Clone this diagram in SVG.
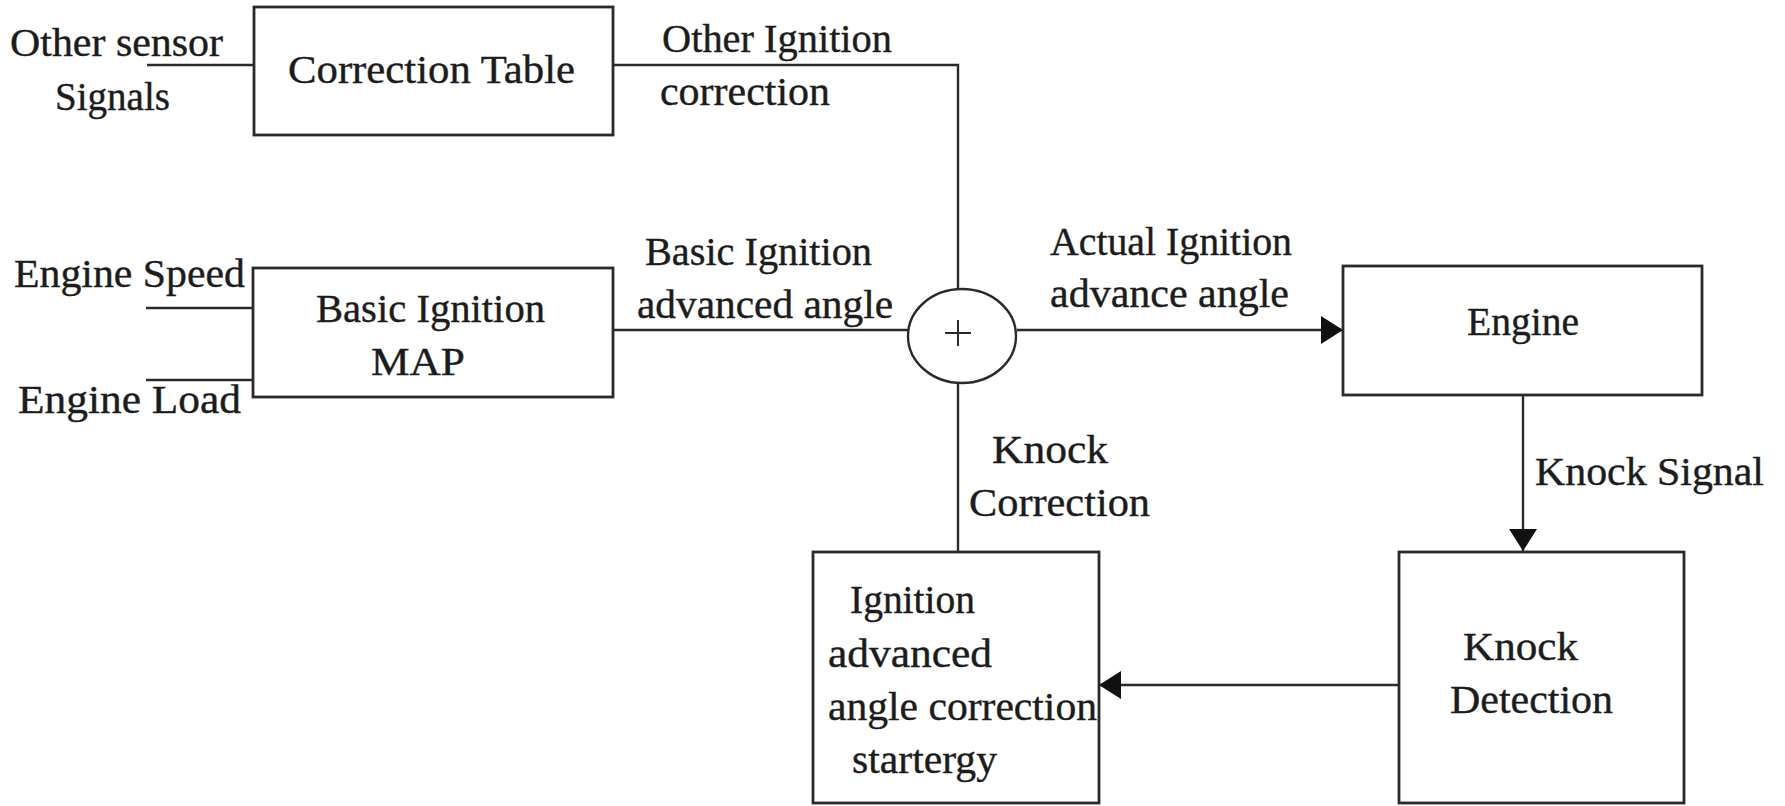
<svg xmlns="http://www.w3.org/2000/svg" width="1785" height="806" viewBox="0 0 1785 806">
<style>
.box{fill:#fff;stroke:#2a2a2a;stroke-width:2.8}
.ln{fill:none;stroke:#2a2a2a;stroke-width:2.4}
.t{font-family:"Liberation Serif","Times New Roman",serif;font-size:41px;fill:#1c1c1c;stroke:#1c1c1c;stroke-width:0.4}
</style>
<defs>
<marker id="ah" markerUnits="userSpaceOnUse" markerWidth="22" markerHeight="28" refX="22" refY="14" orient="auto" viewBox="0 0 22 28">
<path d="M0,0 L22,14 L0,28 Z" fill="#111"/>
</marker>
</defs>
<rect width="1785" height="806" fill="#fff"/>
<g id="connectors">
<path class="ln" d="M147,65 H254"/>
<path class="ln" d="M146,308 H253"/>
<path class="ln" d="M146,380 H253"/>
<path class="ln" d="M613,65 H958 V289"/>
<path class="ln" d="M613,330 H909"/>
<path class="ln" d="M1017,330 H1343" marker-end="url(#ah)"/>
<path class="ln" d="M1523,395 V551" marker-end="url(#ah)"/>
<path class="ln" d="M1399,685 H1099" marker-end="url(#ah)"/>
<path class="ln" d="M958,552 V383"/>
<text class="t" x="10" y="56" textLength="213" lengthAdjust="spacingAndGlyphs">Other sensor</text>
<text class="t" x="55" y="110" textLength="115" lengthAdjust="spacingAndGlyphs">Signals</text>
<text class="t" x="14" y="287" textLength="231" lengthAdjust="spacingAndGlyphs">Engine Speed</text>
<text class="t" x="18" y="413" textLength="223" lengthAdjust="spacingAndGlyphs">Engine Load</text>
<text class="t" x="662" y="52" textLength="230" lengthAdjust="spacingAndGlyphs">Other Ignition</text>
<text class="t" x="660" y="105" textLength="170" lengthAdjust="spacingAndGlyphs">correction</text>
<text class="t" x="645" y="265" textLength="227" lengthAdjust="spacingAndGlyphs">Basic Ignition</text>
<text class="t" x="637" y="318" textLength="256" lengthAdjust="spacingAndGlyphs">advanced angle</text>
<text class="t" x="1050" y="255" textLength="242" lengthAdjust="spacingAndGlyphs">Actual Ignition</text>
<text class="t" x="1050" y="307" textLength="239" lengthAdjust="spacingAndGlyphs">advance angle</text>
<text class="t" x="1535" y="485" textLength="229" lengthAdjust="spacingAndGlyphs">Knock Signal</text>
<text class="t" x="992" y="463" textLength="116" lengthAdjust="spacingAndGlyphs">Knock</text>
<text class="t" x="969" y="516" textLength="181" lengthAdjust="spacingAndGlyphs">Correction</text>
</g>
<g id="correction-table">
<rect class="box" x="254" y="7" width="359" height="128"/>
<text class="t" x="288" y="83" textLength="287" lengthAdjust="spacingAndGlyphs">Correction Table</text>
</g>
<g id="basic-ignition-map">
<rect class="box" x="253" y="268" width="360" height="129"/>
<text class="t" x="316" y="322" textLength="229" lengthAdjust="spacingAndGlyphs">Basic Ignition</text>
<text class="t" x="371" y="375" textLength="94" lengthAdjust="spacingAndGlyphs">MAP</text>
</g>
<g id="sum">
<ellipse cx="962" cy="336" rx="54" ry="47" fill="#fff" stroke="#2a2a2a" stroke-width="2.4"/>
<path d="M945,333 H971 M958,320 V346" stroke="#2a2a2a" stroke-width="2"/>
</g>
<g id="engine">
<rect class="box" x="1343" y="266" width="359" height="129"/>
<text class="t" x="1467" y="335" textLength="112" lengthAdjust="spacingAndGlyphs">Engine</text>
</g>
<g id="knock-detection">
<rect class="box" x="1399" y="552" width="285" height="251"/>
<text class="t" x="1463" y="660" textLength="115" lengthAdjust="spacingAndGlyphs">Knock</text>
<text class="t" x="1450" y="713" textLength="163" lengthAdjust="spacingAndGlyphs">Detection</text>
</g>
<g id="correction-strategy">
<rect class="box" x="813" y="552" width="286" height="251"/>
<text class="t" x="850" y="613" textLength="125" lengthAdjust="spacingAndGlyphs">Ignition</text>
<text class="t" x="828" y="667" textLength="164" lengthAdjust="spacingAndGlyphs">advanced</text>
<text class="t" x="828" y="720" textLength="269" lengthAdjust="spacingAndGlyphs">angle correction</text>
<text class="t" x="852" y="773" textLength="145" lengthAdjust="spacingAndGlyphs">startergy</text>
</g>
</svg>
